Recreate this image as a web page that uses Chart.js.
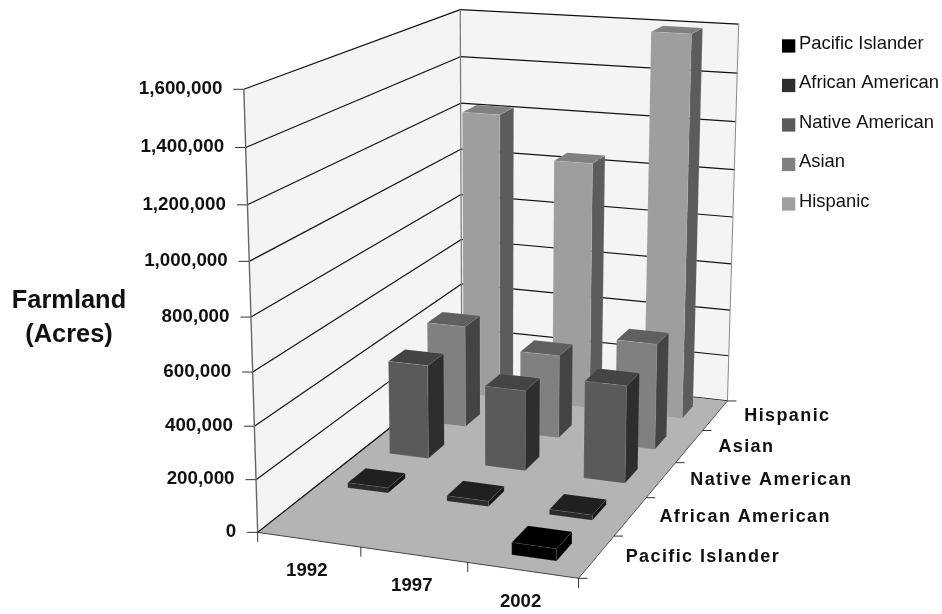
<!DOCTYPE html>
<html>
<head>
<meta charset="utf-8">
<title>Farmland by operator group</title>
<style>
  html, body { margin: 0; padding: 0; background: #fff; }
  canvas { display: block; }
</style>
<script src="https://cdn.jsdelivr.net/npm/chart.js@4"></script>
</head>
<body>
<canvas id="farmland" width="942" height="614"></canvas>
<script>
"use strict";

var years = ["1992", "1997", "2002"];
var groups = ["Pacific Islander", "African American", "Native American", "Asian", "Hispanic"];

var pacificIslander = [0, 0, 45000];
var africanAmerican = [20000, 20000, 20000];
var nativeAmerican = [380000, 323000, 388000];
var asian = [425000, 345000, 435000];
var hispanic = [1220000, 1045000, 1595000];

var frontColors = ["#000000", "#2b2b2b", "#5a5a5a", "#808080", "#9e9e9e"];
var sideColors = ["#000000", "#151515", "#2e2e2e", "#444444", "#5c5c5c"];
var topColors = ["#000000", "#202020", "#444444", "#606060", "#808080"];
var legendColors = ["#000000", "#2e2e2e", "#5a5a5a", "#808080", "#9f9f9f"];

var font = '"Liberation Sans", Arial, sans-serif';

// box corners of the plot as [u, v, w, screenX, screenY]; u = years, v = depth, w = height
var corners = [
  [0, 0, 0, 258.5, 532],
  [1, 0, 0, 578, 579],
  [0, 1, 0, 461, 372],
  [1, 1, 0, 728, 400],
  [0, 0, 1, 243.5, 89],
  [0, 1, 1, 460.7, 9.5],
  [1, 1, 1, 738.5, 24.5]
];

// least squares fit of the 11 perspective coefficients
function fitProjection(pts) {
  var n = 11, ata = [], i, j, k;
  for (i = 0; i < n; i++) {
    ata.push(new Array(n + 1).fill(0));
  }
  function addRow(row, rhs) {
    for (var a = 0; a < n; a++) {
      for (var b = 0; b < n; b++) ata[a][b] += row[a] * row[b];
      ata[a][n] += row[a] * rhs;
    }
  }
  pts.forEach(function (p) {
    var u = p[0], v = p[1], w = p[2], sx = p[3], sy = p[4];
    addRow([u, v, w, 1, 0, 0, 0, 0, -sx * u, -sx * v, -sx * w], sx);
    addRow([0, 0, 0, 0, u, v, w, 1, -sy * u, -sy * v, -sy * w], sy);
  });
  for (i = 0; i < n; i++) {
    var best = i;
    for (k = i + 1; k < n; k++) {
      if (Math.abs(ata[k][i]) > Math.abs(ata[best][i])) best = k;
    }
    var tmp = ata[i]; ata[i] = ata[best]; ata[best] = tmp;
    for (k = 0; k < n; k++) {
      if (k === i) continue;
      var f = ata[k][i] / ata[i][i];
      for (j = i; j <= n; j++) ata[k][j] -= f * ata[i][j];
    }
  }
  return ata.map(function (r, idx) { return r[n] / r[idx]; });
}

var m = fitProjection(corners);

function project(u, v, w) {
  var d = m[8] * u + m[9] * v + m[10] * w + 1;
  return [
    (m[0] * u + m[1] * v + m[2] * w + m[3]) / d,
    (m[4] * u + m[5] * v + m[6] * w + m[7]) / d
  ];
}

function poly(ctx, pts, fill, stroke, lw) {
  ctx.beginPath();
  pts.forEach(function (p, i) {
    var s = project(p[0], p[1], p[2]);
    if (i) ctx.lineTo(s[0], s[1]); else ctx.moveTo(s[0], s[1]);
  });
  ctx.closePath();
  if (fill) {
    ctx.fillStyle = fill;
    ctx.fill();
  }
  if (stroke) {
    ctx.strokeStyle = stroke;
    ctx.lineWidth = lw || 1;
    ctx.stroke();
  }
}

function line(ctx, a, b, color, lw) {
  ctx.beginPath();
  ctx.moveTo(a[0], a[1]);
  ctx.lineTo(b[0], b[1]);
  ctx.strokeStyle = color;
  ctx.lineWidth = lw;
  ctx.stroke();
}

function drawWalls(ctx, yScale) {
  poly(ctx, [[0, 0, 0], [0, 1, 0], [0, 1, 1], [0, 0, 1]], "#f4f4f4");
  poly(ctx, [[0, 1, 0], [1, 1, 0], [1, 1, 1], [0, 1, 1]], "#f4f4f4");

  yScale.ticks.forEach(function (t) {
    var w = (yScale.bottom - yScale.getPixelForValue(t.value)) / yScale.height;
    var a = project(0, 0, w), b = project(0, 1, w), c = project(1, 1, w);
    line(ctx, a, b, "#111", 1.2);
    line(ctx, b, c, "#111", 1.2);
    line(ctx, [a[0] - 10.5, a[1]], a, "#333", 1);
    ctx.font = "bold 18.8px " + font;
    ctx.fillStyle = "#111";
    ctx.textAlign = "right";
    ctx.textBaseline = "middle";
    ctx.fillText(t.label, a[0] - 21.5, a[1] - 0.5);
  });

  line(ctx, project(0, 0, 0), project(0, 0, 1), "#666", 1.4);
  line(ctx, project(0, 1, 0), project(0, 1, 1), "#777", 1.2);
  line(ctx, project(1, 1, 0), project(1, 1, 1), "#888", 1);
}

function drawFloor(ctx, xScale, depthScale) {
  poly(ctx, [[0, 0, 0], [1, 0, 0], [1, 1, 0], [0, 1, 0]], "#b4b4b4");
  line(ctx, project(0, 0, 0), project(0, 1, 0), "#111", 1.2);
  line(ctx, project(0, 0, 0), project(1, 0, 0), "#444", 1);
  line(ctx, project(1, 0, 0), project(1, 1, 0), "#555", 1);

  var i, p;
  ctx.font = "bold 18.6px " + font;
  ctx.fillStyle = "#111";
  ctx.textAlign = "center";
  ctx.textBaseline = "middle";
  for (i = 0; i <= years.length; i++) {
    p = project(i / years.length, 0, 0);
    line(ctx, p, [p[0], p[1] + 9.5], "#333", 1);
  }
  xScale.getLabels().forEach(function (label, idx) {
    var q = project((xScale.getPixelForValue(idx) - xScale.left) / xScale.width, 0, 0);
    ctx.fillText(label, q[0] - 2, q[1] + 31.5);
  });

  for (i = 0; i <= groups.length; i++) {
    p = project(1, i / groups.length, 0);
    line(ctx, p, [p[0] + 9, p[1]], "#333", 1);
  }
  ctx.textAlign = "left";
  ctx.letterSpacing = "1.4px";
  ctx.font = "bold 18px " + font;
  depthScale.getLabels().forEach(function (label, idx) {
    var q = project(1, (depthScale.getPixelForValue(idx) - depthScale.left) / depthScale.width, 0);
    ctx.fillText(label, q[0] + 29, q[1] + 0.5);
  });
  ctx.letterSpacing = "0px";
}

function drawBox(ctx, u, v, w, du, dv, s) {
  var edge = "rgba(255,255,255,0.12)";
  var u0 = u - du, u1 = u + du, v0 = v - dv, v1 = v + dv;
  poly(ctx, [[u1, v0, 0], [u1, v1, 0], [u1, v1, w], [u1, v0, w]], sideColors[s], edge, 0.7);
  poly(ctx, [[u0, v0, w], [u1, v0, w], [u1, v1, w], [u0, v1, w]], topColors[s], edge, 0.7);
  poly(ctx, [[u0, v0, 0], [u1, v0, 0], [u1, v0, w], [u0, v0, w]], frontColors[s], edge, 0.7);
}

function drawBars(chart) {
  var ctx = chart.ctx;
  var x = chart.scales.x, y = chart.scales.y, depth = chart.scales.depth;
  var du = 0.205 / years.length;
  var dv = 0.208 / groups.length;
  // back row first so nearer boxes paint over it
  for (var s = chart.data.datasets.length - 1; s >= 0; s--) {
    var ds = chart.data.datasets[s];
    var v = (depth.getPixelForValue(s) - depth.left) / depth.width;
    ds.data.forEach(function (val, i) {
      if (!val) return;
      var u = (x.getPixelForValue(i) - x.left) / x.width;
      var w = (y.bottom - y.getPixelForValue(val)) / y.height;
      drawBox(ctx, u, v, w, du, dv, s);
    });
  }
}

function drawLegend(chart) {
  var ctx = chart.ctx;
  ctx.font = "18.4px " + font;
  ctx.textAlign = "left";
  ctx.textBaseline = "middle";
  chart.data.datasets.forEach(function (ds, i) {
    var top = 39.3 + i * 39.5;
    ctx.fillStyle = ds.backgroundColor;
    ctx.fillRect(782, top, 13.3, 13.3);
    ctx.fillStyle = "#111";
    ctx.fillText(ds.label, 799, top + 4.5);
  });
}

function drawTitle(chart) {
  var ctx = chart.ctx;
  ctx.font = "bold 25.4px " + font;
  ctx.fillStyle = "#111";
  ctx.textAlign = "center";
  ctx.textBaseline = "middle";
  chart.options.scales.y.title.text.forEach(function (t, i) {
    ctx.fillText(t, 69, 301 + i * 33.5);
  });
}

var box3d = {
  id: "box3d",
  beforeDatasetsDraw: function (chart) {
    var ctx = chart.ctx;
    ctx.save();
    ctx.fillStyle = "#fff";
    ctx.fillRect(0, 0, chart.width, chart.height);
    drawWalls(ctx, chart.scales.y);
    drawFloor(ctx, chart.scales.x, chart.scales.depth);
    drawBars(chart);
    drawLegend(chart);
    drawTitle(chart);
    ctx.restore();
    return false; // the flat bars are replaced by the boxes above
  }
};

var rows = [pacificIslander, africanAmerican, nativeAmerican, asian, hispanic];

new Chart(document.getElementById("farmland"), {
  type: "bar",
  data: {
    labels: years,
    datasets: groups.map(function (name, i) {
      return { label: name, data: rows[i], backgroundColor: legendColors[i] };
    })
  },
  plugins: [box3d],
  options: {
    responsive: false,
    animation: false,
    plugins: { legend: { display: false }, tooltip: { enabled: false } },
    scales: {
      x: { type: "category", offset: true, display: false },
      depth: { type: "category", axis: "x", labels: groups, offset: true, display: false },
      y: {
        min: 0,
        max: 1600000,
        display: false,
        ticks: {
          stepSize: 200000,
          callback: function (v) { return v.toLocaleString("en-US"); }
        },
        title: { text: ["Farmland", "(Acres)"] }
      }
    }
  }
});
</script>
</body>
</html>
